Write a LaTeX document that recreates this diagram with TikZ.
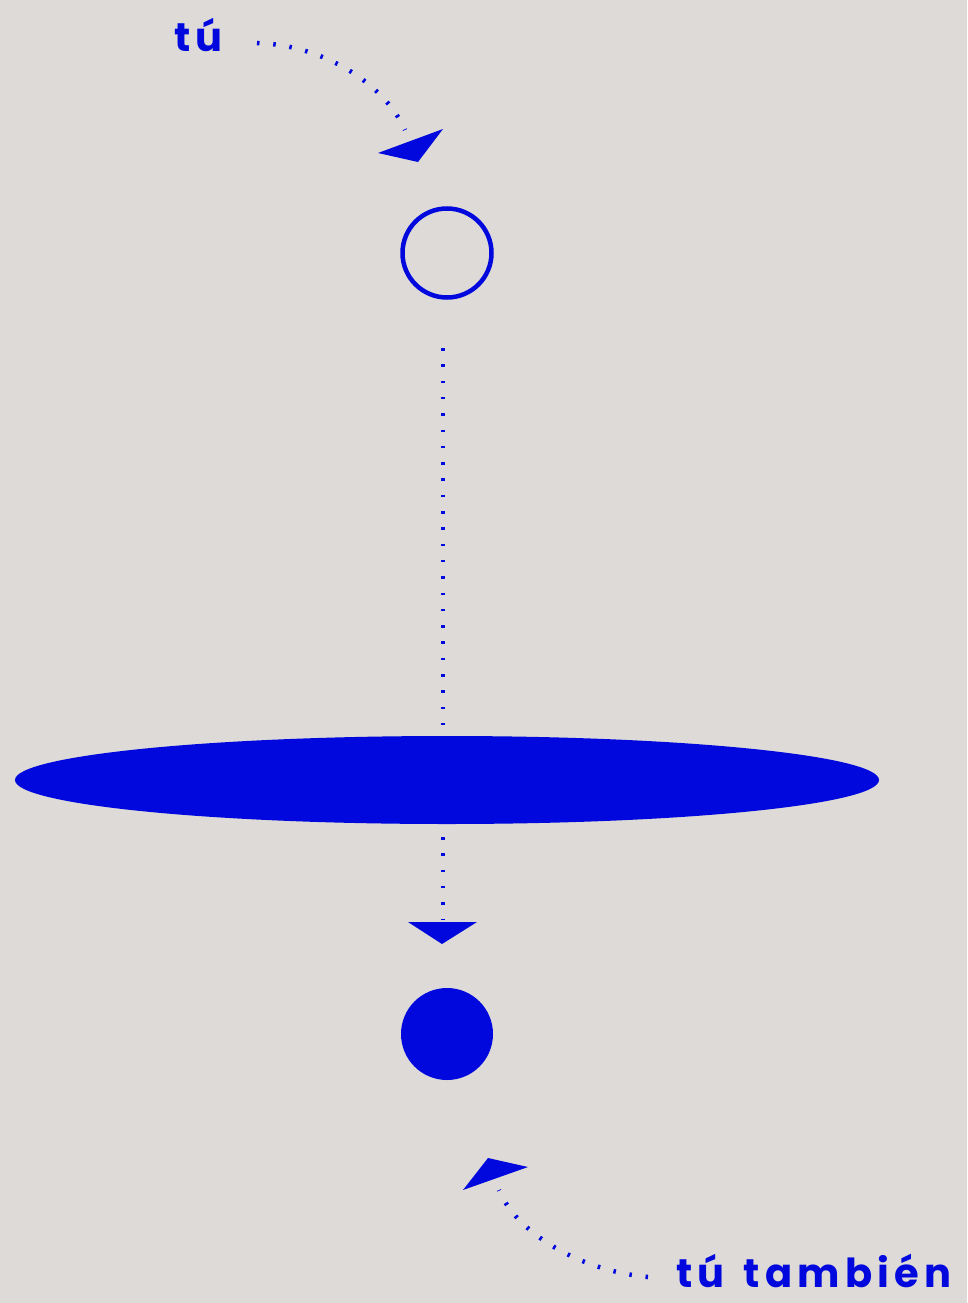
\documentclass[tikz,border=0pt]{standalone}
\usepackage{fontspec}
\newfontfamily\labfont[LetterSpace=13,WordSpace=1.4]{Poppins}
\definecolor{bg}{RGB}{222,218,215}
\definecolor{ink}{RGB}{0,8,222}
\tikzset{
  dotline/.style={ink, line width=4.5pt, dash pattern=on 2.5pt off 13.8pt},
  head/.style={fill=ink, draw=none},
  lab/.style={text=ink, font=\labfont\bfseries\fontsize{40}{44}\selectfont, inner sep=0pt, anchor=base west}
}
\begin{document}
\begin{tikzpicture}[x=1pt,y=-1pt]
\fill[bg] (0,0) rectangle (967,1303);
\useasboundingbox (0,0) rectangle (967,1303);
% labels
\node[lab] (tu) at (174,52) {tú};
\node[lab] (tutam) at (676,1287) {tú también};
% top curved arrow
\coordinate (t0) at (257,43);
\coordinate (t1) at (405,130);
\draw[dotline] (t0) .. controls (325,45) and (385,85) .. (t1);
\fill[head] (378,153) -- (443,129) -- (418,162) -- cycle;
% open circle
\node[draw=ink, line width=4.5pt, circle, minimum size=89pt, inner sep=0pt] (open) at (447,253) {};
% vertical dotted line
\coordinate (v0) at (443,348);
\coordinate (v1) at (443,920);
\draw[dotline] (v0) -- (v1);
% ellipse
\fill[ink] (447,780) ellipse [x radius=432, y radius=44];
\node[inner sep=0pt, minimum width=864pt, minimum height=88pt] (disk) at (447,780) {};
% down arrow head
\fill[head] (408,922) -- (477,922) -- (442,944) -- cycle;
% filled circle
\node[fill=ink, circle, minimum size=92pt, inner sep=0pt] (full) at (447,1034) {};
% bottom curved arrow
\coordinate (b0) at (648,1277);
\coordinate (b1) at (499,1190);
\draw[dotline] (b0) .. controls (575,1270) and (515,1230) .. (b1);
\fill[head] (463,1190) -- (488,1158) -- (528,1167) -- cycle;
\end{tikzpicture}
\end{document}
